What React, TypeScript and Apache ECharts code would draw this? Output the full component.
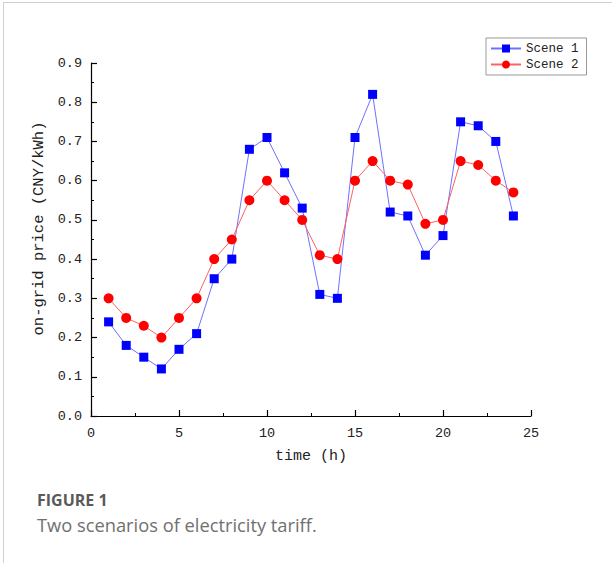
import React, { useEffect, useRef } from "react";
import * as echarts from "echarts";

const hours = [1, 2, 3, 4, 5, 6, 7, 8, 9, 10, 11, 12, 13, 14, 15, 16, 17, 18, 19, 20, 21, 22, 23, 24];
const scene1 = [0.24, 0.18, 0.15, 0.12, 0.17, 0.21, 0.35, 0.40, 0.68, 0.71, 0.62, 0.53, 0.31, 0.30, 0.71, 0.82, 0.52, 0.51, 0.41, 0.46, 0.75, 0.74, 0.70, 0.51];
const scene2 = [0.30, 0.25, 0.23, 0.20, 0.25, 0.30, 0.40, 0.45, 0.55, 0.60, 0.55, 0.50, 0.41, 0.40, 0.60, 0.65, 0.60, 0.59, 0.49, 0.50, 0.65, 0.64, 0.60, 0.57];
const seriesNames = ["Scene 1", "Scene 2"];
const xAxisName = "time (h)";
const yAxisName = "on-grid price (CNY/kWh)";
const captionTitle = "FIGURE 1";
const captionText = "Two scenarios of electricity tariff.";

const mono = "'Liberation Mono', 'DejaVu Sans Mono', monospace";
const sans = "'Open Sans', 'Noto Sans', sans-serif";

export default function App() {
  const ref = useRef<HTMLDivElement>(null);
  useEffect(() => {
    if (!ref.current) return;
    const chart = echarts.init(ref.current, null, { renderer: "svg" });
    const axisCommon = {
      axisLine: { show: true, lineStyle: { color: "#000", width: 1.2 } },
      axisTick: { show: true, inside: true, length: 6, lineStyle: { color: "#000", width: 1.2 } },
      minorTick: { show: true, splitNumber: 2, length: 3, lineStyle: { color: "#000", width: 1 } },
      splitLine: { show: false },
      axisLabel: { color: "#222", fontFamily: mono, fontSize: 13.5 },
      nameTextStyle: { color: "#222", fontFamily: mono, fontSize: 15 },
    };
    chart.setOption({
      animation: false,
      grid: { left: 91, right: 81, top: 63, bottom: 147 },
      legend: {
        orient: "vertical",
        left: 486,
        top: 38,
        itemWidth: 30,
        itemHeight: 10,
        itemGap: 3,
        padding: [4, 8, 4, 4],
        borderColor: "#999",
        borderWidth: 1,
        textStyle: { fontFamily: mono, fontSize: 12.5, color: "#222" },
        data: seriesNames,
      },
      xAxis: {
        type: "value",
        min: 0,
        max: 25,
        interval: 5,
        name: xAxisName,
        nameLocation: "middle",
        nameGap: 33,
        ...axisCommon,
        axisLabel: { ...axisCommon.axisLabel, margin: 10 },
      },
      yAxis: {
        type: "value",
        min: 0,
        max: 0.9,
        interval: 0.1,
        name: yAxisName,
        nameLocation: "middle",
        nameGap: 35,
        ...axisCommon,
        nameTextStyle: { ...axisCommon.nameTextStyle, fontSize: 15.5, padding: [0, 0, 0, 22] },
        axisLabel: { ...axisCommon.axisLabel, margin: 9, formatter: (v: number) => v.toFixed(1) },
      },
      series: [
        {
          name: seriesNames[0],
          type: "line",
          data: hours.map((h, i) => [h, scene1[i]]),
          symbol: "rect",
          symbolSize: 9,
          itemStyle: { color: "#0000ff" },
          lineStyle: { color: "#7070ff", width: 1 },
        },
        {
          name: seriesNames[1],
          type: "line",
          data: hours.map((h, i) => [h, scene2[i]]),
          symbol: "circle",
          symbolSize: 10,
          itemStyle: { color: "#ff0000" },
          lineStyle: { color: "#ff6060", width: 1 },
        },
      ],
      graphic: [
        { type: "line", shape: { x1: 3, y1: 2.5, x2: 612, y2: 2.5 }, style: { stroke: "#d0d0d0", lineWidth: 1 } },
        { type: "line", shape: { x1: 3.5, y1: 2, x2: 3.5, y2: 563 }, style: { stroke: "#d0d0d0", lineWidth: 1 } },
        {
          type: "text",
          left: 37,
          top: 492,
          style: { text: captionTitle, fontFamily: sans, fontSize: 16, fontWeight: "bold", fill: "#5a5a5a" },
        },
        {
          type: "text",
          left: 37,
          top: 515,
          style: { text: captionText, fontFamily: sans, fontSize: 18.3, fill: "#707070" },
        },
      ],
    });
    return () => chart.dispose();
  }, []);
  return (
    <div style={{ position: "absolute", left: 0, top: 0, width: 612, height: 563, background: "#fff" }}>
      <div ref={ref} style={{ width: 612, height: 563 }} />
    </div>
  );
}
